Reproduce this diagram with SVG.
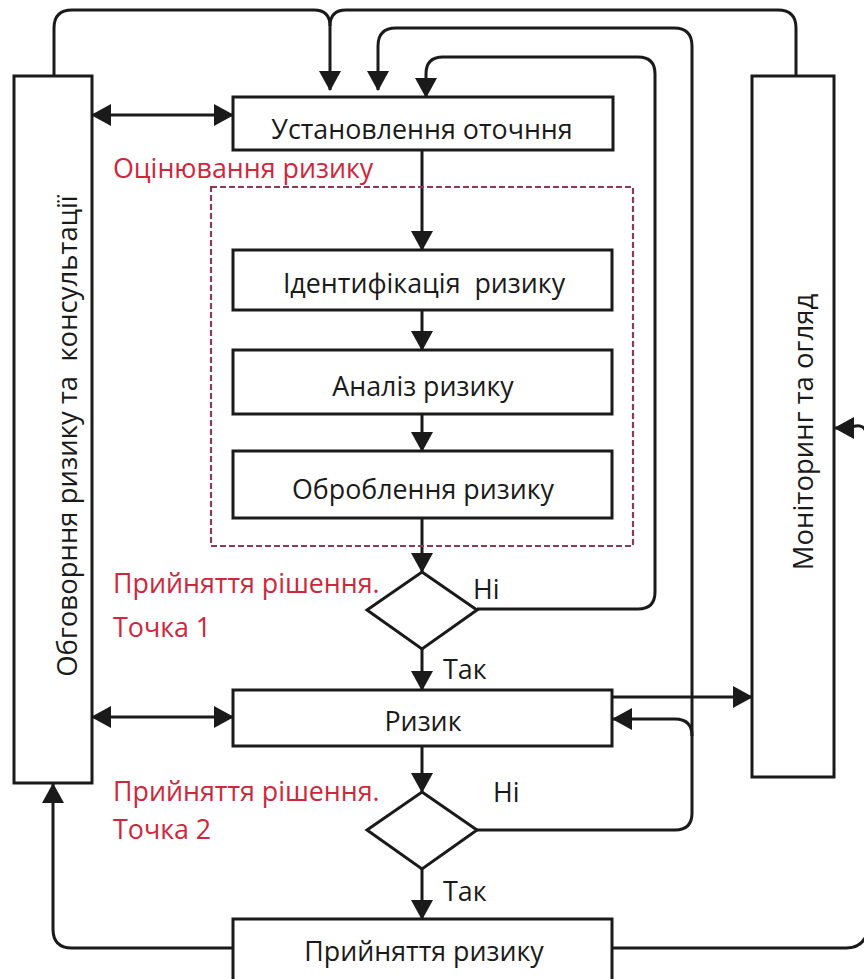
<svg xmlns="http://www.w3.org/2000/svg" width="864" height="979" viewBox="0 0 864 979">
<defs>
<marker id="ah" viewBox="0 0 20 22" refX="19" refY="11" markerWidth="20" markerHeight="22" markerUnits="userSpaceOnUse" orient="auto-start-reverse">
<path d="M0,0 L20,11 L0,22 Z" fill="#1a1a1a"/>
</marker>
</defs>
<style>
.box{fill:#fff;stroke:#1a1a1a;stroke-width:3}
.ln{fill:none;stroke:#1a1a1a;stroke-width:3}
.t{font-family:"Open Sans","Noto Sans",sans-serif;font-size:26.8px;fill:#1a1a1a;white-space:pre}
.v{font-family:"Open Sans","Noto Sans",sans-serif;font-size:27.5px;fill:#1a1a1a;white-space:pre}
.r{font-family:"Open Sans","Noto Sans",sans-serif;font-size:26.8px;fill:#d0263c;white-space:pre}
</style>
<rect width="864" height="979" fill="#fff"/>
<g id="connectors">
<path class="ln" d="M54,76 V28 Q54,10 72,10 H314 Q330,10 330,26 V90" marker-end="url(#ah)"/>
<path class="ln" d="M796,76 V28 Q796,10 778,10 H346 Q330,10 330,26"/>
<path class="ln" d="M692,736 V46 Q692,28 674,28 H396 Q378,28 378,46 V90" marker-end="url(#ah)"/>
<path class="ln" d="M477,609 H638 Q655,609 655,592 V74 Q655,57 638,57 H443 Q426,57 426,74 V97" marker-end="url(#ah)"/>
<path class="ln" d="M477,830 H675 Q692,830 692,813 V736 Q692,719 675,719 H613" marker-end="url(#ah)"/>
<path class="ln" d="M92,115 H233" marker-start="url(#ah)" marker-end="url(#ah)"/>
<path class="ln" d="M92,717 H233" marker-start="url(#ah)" marker-end="url(#ah)"/>
<path class="ln" d="M422,150 V250" marker-end="url(#ah)"/>
<path class="ln" d="M422,310 V350" marker-end="url(#ah)"/>
<path class="ln" d="M422,414 V451" marker-end="url(#ah)"/>
<path class="ln" d="M422,518 V572" marker-end="url(#ah)"/>
<path class="ln" d="M422,649 V690" marker-end="url(#ah)"/>
<path class="ln" d="M422,746 V792" marker-end="url(#ah)"/>
<path class="ln" d="M422,869 V919" marker-end="url(#ah)"/>
<path class="ln" d="M612,697 H752" marker-end="url(#ah)"/>
<path class="ln" d="M232,948 H72 Q53,948 53,929 V784" marker-end="url(#ah)"/>
<path class="ln" d="M612,948 H846 Q864,948 868,930 V440 Q866,420 850,428 L835,428" marker-end="url(#ah)"/>
</g>
<g id="left-box">
<rect class="box" x="14" y="76" width="78" height="707"/>
<text class="v" transform="translate(77,436) rotate(-90)" text-anchor="middle">Обговорння ризику та  консультації</text>
</g>
<g id="right-box">
<rect class="box" x="752" y="76" width="82" height="701"/>
<text class="v" transform="translate(813,432) rotate(-90)" text-anchor="middle">Моніторинг та огляд</text>
</g>
<g id="assessment">
<rect x="211" y="187" width="422" height="359" fill="none" stroke="#8a3b55" stroke-width="2.2" stroke-dasharray="6,3"/>
<text class="r" x="113" y="178">Оцінювання ризику</text>
</g>
<g id="context">
<rect class="box" x="233" y="97" width="380" height="53"/>
<text class="t" x="422" y="139" text-anchor="middle">Установлення оточння</text>
</g>
<g id="identification">
<rect class="box" x="233" y="250" width="379" height="60"/>
<text class="t" x="424" y="293" text-anchor="middle">Ідентифікація  ризику</text>
</g>
<g id="analysis">
<rect class="box" x="233" y="350" width="379" height="64"/>
<text class="t" x="423" y="396" text-anchor="middle">Аналіз ризику</text>
</g>
<g id="treatment">
<rect class="box" x="233" y="451" width="379" height="67"/>
<text class="t" x="423" y="499" text-anchor="middle">Оброблення ризику</text>
</g>
<g id="decision1">
<path class="box" d="M422,572 L477,610 L422,649 L367,610 Z"/>
<text class="r" x="113" y="593">Прийняття рішення.</text>
<text class="r" x="113" y="637">Точка 1</text>
<text class="t" x="473" y="599">Ні</text>
<text class="t" x="443" y="679">Так</text>
</g>
<g id="risk">
<rect class="box" x="233" y="690" width="379" height="56"/>
<text class="t" x="423" y="731" text-anchor="middle">Ризик</text>
</g>
<g id="decision2">
<path class="box" d="M422,792 L477,830 L422,869 L367,830 Z"/>
<text class="r" x="113" y="801">Прийняття рішення.</text>
<text class="r" x="113" y="839">Точка 2</text>
<text class="t" x="493" y="802">Ні</text>
<text class="t" x="443" y="901">Так</text>
</g>
<g id="acceptance">
<rect class="box" x="233" y="919" width="379" height="64"/>
<text class="t" x="424" y="961" text-anchor="middle">Прийняття ризику</text>
</g>
</svg>
